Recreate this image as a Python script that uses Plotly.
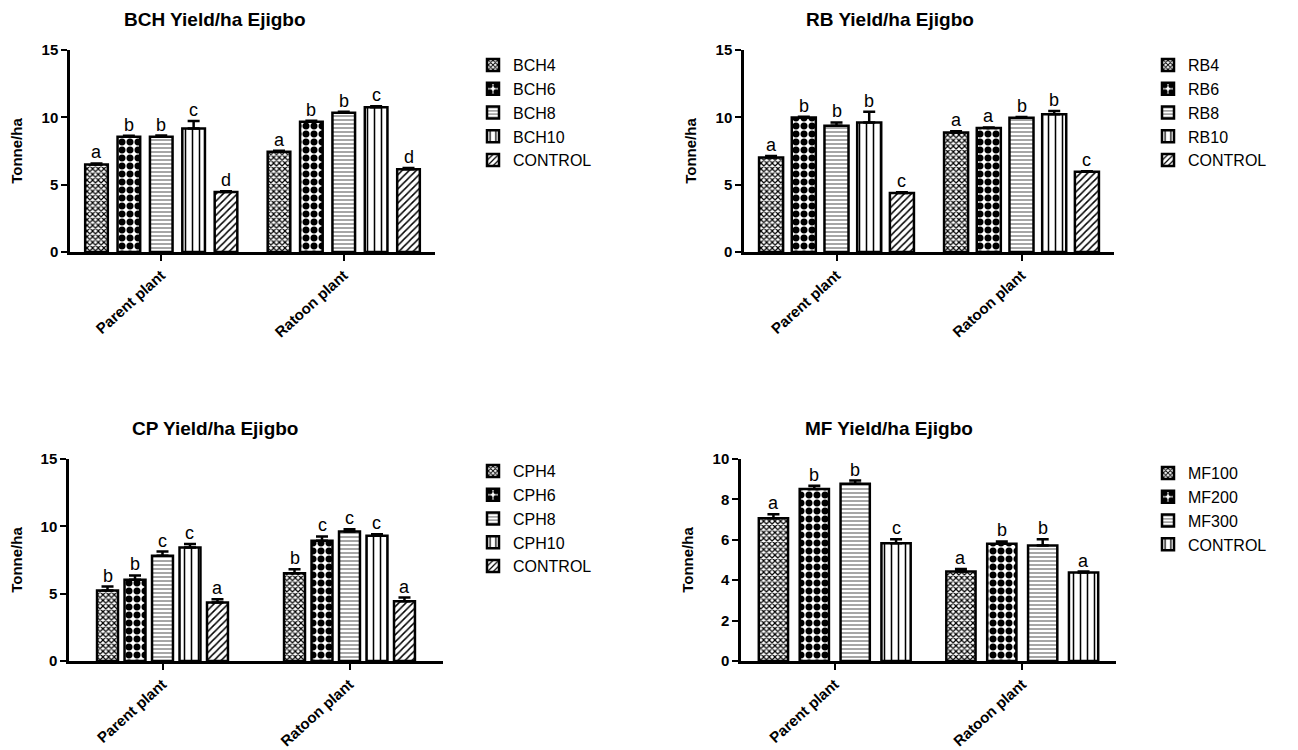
import plotly.graph_objects as go

# page body adds an 8px margin; figure is sized to fill the remaining window
OFF = 8
FW, FH = 1290, 742

categories = ["Parent plant", "Ratoon plant"]

# ---- BCH ----
bch_names = ["BCH4", "BCH6", "BCH8", "BCH10", "CONTROL"]
bch_vals = [[6.50, 7.44], [8.55, 9.67], [8.55, 10.34], [9.17, 10.74], [4.46, 6.15]]
bch_errs = [[0.08, 0.08], [0.08, 0.08], [0.10, 0.08], [0.55, 0.08], [0.06, 0.08]]
bch_lets = [["a", "a"], ["b", "b"], ["b", "b"], ["c", "c"], ["d", "d"]]

# ---- RB ----
rb_names = ["RB4", "RB6", "RB8", "RB10", "CONTROL"]
rb_vals = [[7.02, 8.88], [9.99, 9.20], [9.37, 9.97], [9.62, 10.22], [4.39, 5.95]]
rb_errs = [[0.10, 0.08], [0.06, 0.05], [0.25, 0.06], [0.80, 0.25], [0.05, 0.05]]
rb_lets = [["a", "a"], ["b", "a"], ["b", "b"], ["b", "b"], ["c", "c"]]

# ---- CP ----
cp_names = ["CPH4", "CPH6", "CPH8", "CPH10", "CONTROL"]
cp_vals = [[5.23, 6.52], [6.03, 8.93], [7.81, 9.62], [8.43, 9.30], [4.34, 4.44]]
cp_errs = [[0.30, 0.30], [0.32, 0.32], [0.32, 0.17], [0.25, 0.12], [0.25, 0.27]]
cp_lets = [["b", "b"], ["b", "c"], ["c", "c"], ["c", "c"], ["a", "a"]]

# ---- MF ----
mf_names = ["MF100", "MF200", "MF300", "CONTROL"]
mf_vals = [[7.07, 4.43], [8.51, 5.80], [8.78, 5.72], [5.83, 4.38]]
mf_errs = [[0.20, 0.12], [0.17, 0.12], [0.15, 0.31], [0.20, 0.05]]
mf_lets = [["a", "a"], ["b", "b"], ["b", "b"], ["c", "a"]]

FONT = "Arial, Liberation Sans, sans-serif"

patterns = {
    "fine": dict(shape="x", size=4, solidity=0.5, fgcolor="black", bgcolor="white", fgopacity=1),
    "check": dict(shape=".", size=8, solidity=0.6, fgcolor="black", bgcolor="white", fgopacity=1),
    "hline": dict(shape="-", size=4, solidity=0.35, fgcolor="#808080", bgcolor="white", fgopacity=1),
    "vline": dict(shape="|", size=7, solidity=0.22, fgcolor="black", bgcolor="white", fgopacity=1),
    "diag": dict(shape="/", size=5, solidity=0.3, fgcolor="black", bgcolor="white", fgopacity=1),
}

def px_x(p):
    return (p - OFF) / FW

def px_y(p):
    return 1 - (p - OFF) / FH

panels = [
    dict(title="BCH Yield/ha Ejigbo", names=bch_names, vals=bch_vals, errs=bch_errs, lets=bch_lets,
         pats=["fine", "check", "hline", "vline", "diag"], xd=(70, 435), yd=(50, 252), ymax=15, dtick=5,
         slot=0.1774, bw=0.124, leg=(473, 48), tcx=215, tcy=20),
    dict(title="RB Yield/ha Ejigbo", names=rb_names, vals=rb_vals, errs=rb_errs, lets=rb_lets,
         pats=["fine", "check", "hline", "vline", "diag"], xd=(744, 1114), yd=(50, 252), ymax=15, dtick=5,
         slot=0.1768, bw=0.13, leg=(1148, 48), tcx=890, tcy=20),
    dict(title="CP Yield/ha Ejigbo", names=cp_names, vals=cp_vals, errs=cp_errs, lets=cp_lets,
         pats=["fine", "check", "hline", "vline", "diag"], xd=(69, 443), yd=(459, 661), ymax=15, dtick=5,
         slot=0.147, bw=0.112, leg=(473, 454), tcx=215, tcy=429),
    dict(title="MF Yield/ha Ejigbo", names=mf_names, vals=mf_vals, errs=mf_errs, lets=mf_lets,
         pats=["fine", "check", "hline", "vline"], xd=(741, 1116), yd=(459, 661), ymax=10, dtick=2,
         slot=0.218, bw=0.156, leg=(1148, 456), tcx=889, tcy=429),
]

fig = go.Figure()
annotations = []
layout = {}

for k, p in enumerate(panels):
    sfx = "" if k == 0 else str(k + 1)
    xa, ya = "x" + sfx, "y" + sfx
    leg = "legend" + sfx
    n = len(p["names"])
    for j in range(n):
        center = (j - (n - 1) / 2) * p["slot"]
        fig.add_trace(go.Bar(
            x=categories, y=p["vals"][j], name=p["names"][j],
            xaxis=xa, yaxis=ya, legend=leg,
            width=p["bw"], offset=center - p["bw"] / 2,
            marker=dict(color="white", line=dict(color="black", width=2.5),
                        pattern=patterns[p["pats"][j]]),
            error_y=dict(type="data", array=p["errs"][j], arrayminus=[0, 0], symmetric=False,
                         color="black", thickness=2.5, width=6),
        ))
        for i in range(len(categories)):
            annotations.append(dict(
                x=i + center, y=p["vals"][j][i] + p["errs"][j][i], xref=xa, yref=ya,
                text=p["lets"][j][i], showarrow=False, yanchor="bottom", yshift=-1,
                font=dict(family=FONT, size=18, color="black")))
    annotations.append(dict(x=px_x(p["tcx"]), y=px_y(p["tcy"]), xref="paper", yref="paper",
                            text="<b>" + p["title"] + "</b>", showarrow=False,
                            xanchor="center", yanchor="middle",
                            font=dict(family=FONT, size=19, color="black")))
    layout["xaxis" + sfx] = dict(
        domain=[px_x(p["xd"][0]), px_x(p["xd"][1])], anchor=ya, type="category",
        range=[-0.5, 1.5], showline=True, linecolor="black", linewidth=2.5,
        ticks="outside", ticklen=6, tickwidth=2, tickcolor="black", tickangle=-42,
        tickfont=dict(family=FONT, size=15, color="black", weight="bold"),
        showgrid=False, zeroline=False, automargin=False)
    layout["yaxis" + sfx] = dict(
        domain=[px_y(p["yd"][1]), px_y(p["yd"][0])], anchor=xa,
        range=[0, p["ymax"]], dtick=p["dtick"], tick0=0, showline=True, linecolor="black", linewidth=2.5,
        ticks="outside", ticklen=6, tickwidth=2, tickcolor="black",
        tickfont=dict(family=FONT, size=15, color="black", weight="bold"),
        title=dict(text="<b>Tonne/ha</b>", font=dict(family=FONT, size=15, color="black"), standoff=16),
        showgrid=False, zeroline=False, automargin=False)
    layout[leg] = dict(x=px_x(p["leg"][0]), y=px_y(p["leg"][1]), xanchor="left", yanchor="top",
                       bgcolor="rgba(0,0,0,0)", font=dict(family=FONT, size=16, color="black"),
                       itemclick=False)

fig.update_layout(
    width=FW, height=FH, margin=dict(l=0, r=0, t=0, b=0),
    paper_bgcolor="white", plot_bgcolor="white",
    barmode="overlay", showlegend=True, annotations=annotations, **layout)

fig.write_html("out.html")
